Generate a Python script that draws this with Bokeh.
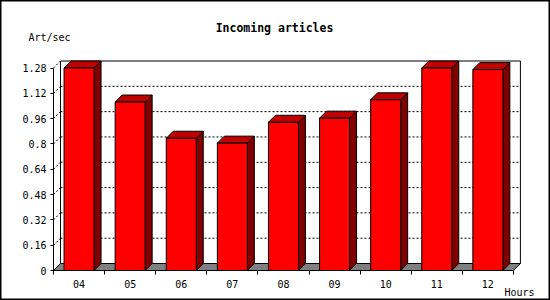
from bokeh.plotting import figure
from bokeh.models import Range1d, FixedTicker, NumeralTickFormatter, Label, LinearAxis
from bokeh.embed import file_html
from bokeh.resources import INLINE

# ---- data ----
hours = ["04", "05", "06", "07", "08", "09", "10", "11", "12"]
rate = [1.28, 1.065, 0.836, 0.805, 0.937, 0.963, 1.079, 1.28, 1.27]
y_ticks = [0, 0.16, 0.32, 0.48, 0.64, 0.8, 0.96, 1.12, 1.28]
title_text = "Incoming articles"
y_title = "Art/sec"
x_title = "Hours"

# ---- geometry (page pixels -> data) ----
W, H = 550, 300
X0, Y0 = 53, 270     # front origin in page px
PX_X = 51.1          # px per category slot
PX_Y = 158.2         # px per unit value
DX, DY = 7 / PX_X, 7 / PX_Y    # 3D depth in data units
n = len(hours)
ymax = y_ticks[-1]
half = 15 / PX_X
MONO = "DejaVu Sans Mono"


def dx(px):
    return (px - X0) / PX_X


def dy(py):
    return (Y0 - py) / PX_Y


p = figure(width=W, height=H, output_backend="svg", toolbar_location=None,
           x_range=Range1d(dx(0), dx(W)), y_range=Range1d(dy(H), dy(0)),
           x_axis_type=None, y_axis_type=None,
           min_border_left=0, min_border_right=0, min_border_top=0, min_border_bottom=0,
           background_fill_color="white", border_fill_color="white")
p.outline_line_color = "black"
p.outline_line_width = 2

# back plane
p.quad(left=[DX], right=[n + DX], bottom=[DY], top=[ymax + DY],
       fill_color="white", line_color="black", line_width=1)
# dotted gridlines on back plane and left wall
for t in y_ticks[1:-1]:
    p.segment(x0=[DX], y0=[t + DY], x1=[n + DX], y1=[t + DY],
              line_color="black", line_dash="2 2", line_width=1)
for t in y_ticks:
    p.segment(x0=[0], y0=[t], x1=[DX], y1=[t + DY],
              line_color="black", line_dash="2 2", line_width=1)
# floor
p.patch(x=[0, n, n + DX, DX], y=[0, 0, DY, DY],
        fill_color="#808080", line_color="black", line_width=1)

# bars
for i, v in enumerate(rate):
    x0 = i + 0.5 - half
    x1 = i + 0.5 + half
    p.patch(x=[x1, x1 + DX, x1 + DX, x1], y=[0, DY, v + DY, v],
            fill_color="#800000", line_color="black", line_width=1)
    p.patch(x=[x0, x1, x1 + DX, x0 + DX], y=[v, v, v + DY, v + DY],
            fill_color="#c00000", line_color="black", line_width=1)
    p.quad(left=[x0], right=[x1], bottom=[0], top=[v],
           fill_color="#ff0000", line_color="black", line_width=1)

# axes (placed inside the frame at the front origin)
ya = LinearAxis(fixed_location=0)
ya.ticker = FixedTicker(ticks=y_ticks)
ya.formatter = NumeralTickFormatter(format="0.[00]")
ya.bounds = (0, ymax)
ya.major_tick_out = 3
ya.major_tick_in = 0
ya.minor_tick_out = 0
ya.major_label_standoff = 4
ya.major_label_text_font = MONO
ya.major_label_text_font_size = "10px"
ya.major_label_text_color = "black"
ya.axis_line_color = "black"
p.add_layout(ya, "left")

xa = LinearAxis(fixed_location=0)
xa.ticker = FixedTicker(ticks=[i + 0.5 for i in range(n)], minor_ticks=list(range(n + 1)))
xa.major_label_overrides = {i + 0.5: h for i, h in enumerate(hours)}
xa.bounds = (0, n)
xa.major_tick_out = 0
xa.major_tick_in = 0
xa.minor_tick_out = 4
xa.minor_tick_in = 0
xa.major_label_standoff = 5
xa.major_label_text_font = MONO
xa.major_label_text_font_size = "10px"
xa.major_label_text_color = "black"
xa.axis_line_color = "black"
p.add_layout(xa, "below")

p.add_layout(Label(x=dx(274), y=dy(27), text=title_text, text_font=MONO, text_font_size="11.5px",
                   text_font_style="bold", text_align="center", text_baseline="middle",
                   text_color="black"))
p.add_layout(Label(x=dx(28), y=dy(37), text=y_title, text_font=MONO, text_font_size="10px",
                   text_align="left", text_baseline="middle", text_color="black"))
p.add_layout(Label(x=dx(504), y=dy(292), text=x_title, text_font=MONO, text_font_size="10px",
                   text_align="left", text_baseline="middle", text_color="black"))

open("out.html", "w").write(file_html(p, INLINE))
